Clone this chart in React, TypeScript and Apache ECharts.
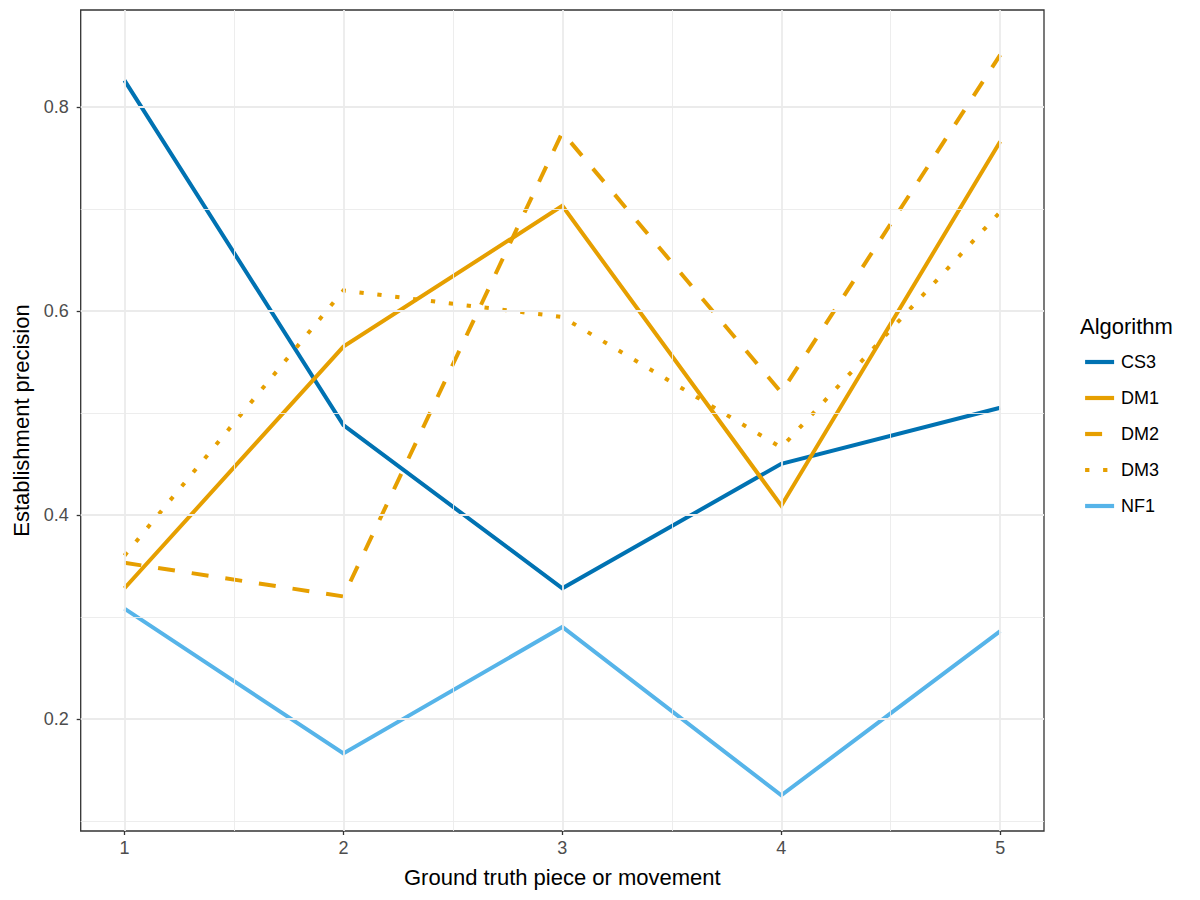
import React, { useEffect, useRef } from "react";
import * as echarts from "echarts";

const pieces = [1, 2, 3, 4, 5];
const cs3 = [0.826, 0.488, 0.328, 0.45, 0.505];
const dm1 = [0.328, 0.565, 0.703, 0.409, 0.766];
const dm2 = [0.353, 0.32, 0.775, 0.52, 0.851];
const dm3 = [0.36, 0.62, 0.594, 0.466, 0.697];
const nf1 = [0.308, 0.166, 0.29, 0.125, 0.286];

const yMajor = [0.2, 0.4, 0.6, 0.8];
const yMinor = [0.1, 0.3, 0.5, 0.7];
const xMajor = [1, 2, 3, 4, 5];
const xMinor = [1.5, 2.5, 3.5, 4.5];

const FONT = "Liberation Sans, Arial, Helvetica, sans-serif";
const LW = 4;

export default function App() {
  const ref = useRef<HTMLDivElement>(null);
  useEffect(() => {
    if (!ref.current) return;
    const chart = echarts.init(ref.current, undefined, { renderer: "svg" });
    const pts = (vals: number[]) => pieces.map((p, i) => [p, vals[i]]);
    const mk = (name: string, vals: number[], color: string, type: any) => ({
      name,
      type: "line",
      data: pts(vals),
      symbol: "none",
      showSymbol: false,
      z: 3,
      lineStyle: { color, width: LW, type, cap: "butt", join: "miter" },
      itemStyle: { color },
    });
    const gridLine = (vals: number[], axis: "xAxis" | "yAxis", width: number) =>
      vals.map((v) => ({ [axis]: v, lineStyle: { color: "#EBEBEB", width, type: "solid" } }));
    chart.setOption({
      animation: false,
      backgroundColor: "#ffffff",
      textStyle: { fontFamily: FONT },
      title: {
        text: "Algorithm",
        left: 1080,
        top: 315,
        padding: 0,
        textStyle: { fontSize: 22, fontWeight: "normal", color: "#000", fontFamily: FONT },
      },
      legend: {
        orient: "vertical",
        left: 1083,
        top: 353,
        padding: 0,
        itemWidth: 29,
        itemHeight: 18,
        itemGap: 18,
        selectedMode: false,
        itemStyle: { color: "rgba(0,0,0,0)", borderWidth: 0, opacity: 0 },
        lineStyle: { width: 4.2 },
        textStyle: { fontSize: 18, color: "#000", fontFamily: FONT, padding: [0, 0, 0, 2] },
        data: ["CS3", "DM1", "DM2", "DM3", "NF1"],
      },
      grid: {
        left: 80.7,
        right: 156,
        top: 10,
        bottom: 69,
        show: true,
        borderColor: "#333333",
        borderWidth: 1.3,
        backgroundColor: "#ffffff",
        containLabel: false,
      },
      xAxis: {
        type: "value",
        min: 0.8,
        max: 5.2,
        name: "Ground truth piece or movement",
        nameLocation: "middle",
        nameGap: 35,
        nameTextStyle: { fontSize: 22, color: "#000", fontFamily: FONT },
        axisLine: { show: false },
        splitLine: { show: false },
        axisTick: { show: true, length: 4, customValues: xMajor, lineStyle: { color: "#333333", width: 1.3 } },
        axisLabel: { customValues: xMajor, fontSize: 18, color: "#4D4D4D", margin: 8, fontFamily: FONT },
      },
      yAxis: {
        type: "value",
        min: 0.09,
        max: 0.895,
        name: "Establishment precision",
        nameLocation: "middle",
        nameGap: 48.7,
        nameTextStyle: { fontSize: 22, color: "#000", fontFamily: FONT },
        axisLine: { show: false },
        splitLine: { show: false },
        axisTick: { show: true, length: 4, customValues: yMajor, lineStyle: { color: "#333333", width: 1.3 } },
        axisLabel: {
          customValues: yMajor,
          fontSize: 18,
          color: "#4D4D4D",
          margin: 12,
          fontFamily: FONT,
          formatter: (v: number) => v.toFixed(1),
        },
      },
      series: [
        {
          name: "grid",
          type: "line",
          data: [],
          z: 1,
          silent: true,
          markLine: {
            silent: true,
            symbol: "none",
            label: { show: false },
            animation: false,
            data: [
              ...gridLine(yMinor, "yAxis", 0.9),
              ...gridLine(xMinor, "xAxis", 0.9),
              ...gridLine(yMajor, "yAxis", 1.8),
              ...gridLine(xMajor, "xAxis", 1.8),
            ],
          },
        },
        mk("CS3", cs3, "#0072B2", "solid"),
        mk("DM1", dm1, "#E69F00", "solid"),
        mk("DM2", dm2, "#E69F00", [17, 17]),
        mk("DM3", dm3, "#E69F00", [4.3, 13.7]),
        mk("NF1", nf1, "#56B4E9", "solid"),
      ],
    });
    return () => chart.dispose();
  }, []);
  return <div ref={ref} style={{ position: "fixed", left: 0, top: 0, width: 1200, height: 900 }} />;
}
